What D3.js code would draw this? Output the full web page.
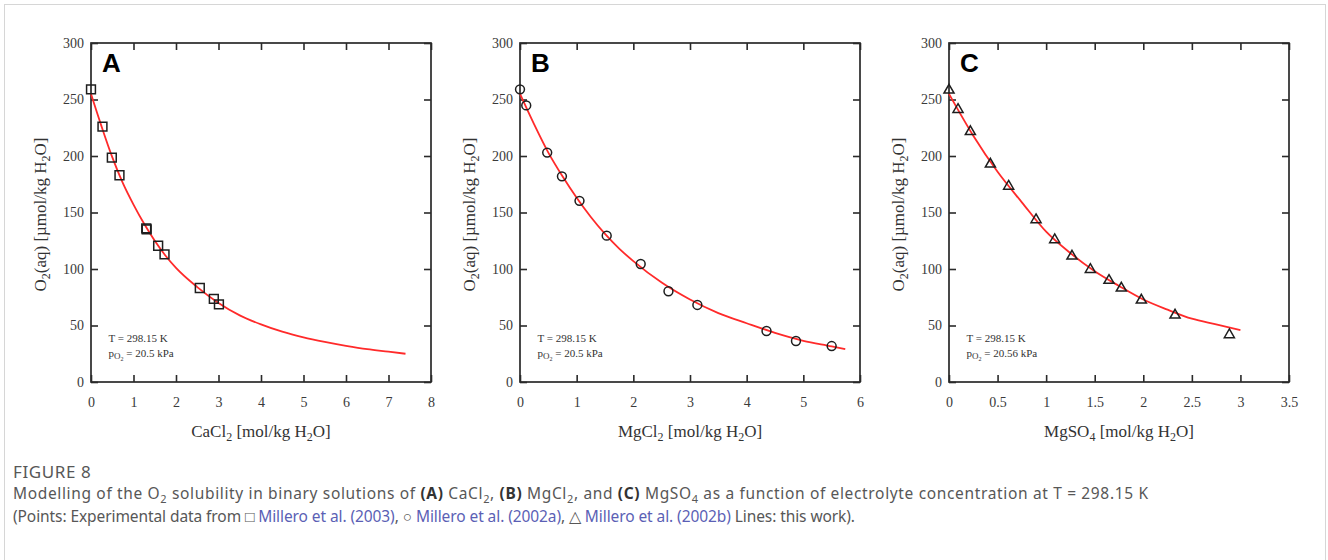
<!DOCTYPE html>
<html>
<head>
<meta charset="utf-8">
<script src="https://cdn.jsdelivr.net/npm/d3@7"></script>
<style>
  html, body { margin: 0; padding: 0; background: #fff; }
  svg { display: block; }
</style>
</head>
<body>
<svg id="fig" width="1328" height="560"></svg>
<script>
// ---- Measured O2 solubility (µmol/kg H2O) vs. electrolyte molality ----
const cacl2X = [0, 0.27, 0.49, 0.67, 1.30, 1.31, 1.58, 1.73, 2.56, 2.89, 3.01];
const cacl2Y = [259, 226, 198.5, 183, 136, 135, 120.6, 113, 83.2, 73.5, 68.7];

const mgcl2X = [0, 0.11, 0.48, 0.74, 1.05, 1.53, 2.13, 2.62, 3.13, 4.35, 4.87, 5.50];
const mgcl2Y = [259, 244.8, 203, 182, 160.3, 129.5, 104.4, 80.3, 68.2, 45.1, 36.3, 31.8];

const mgso4X = [0, 0.093, 0.22, 0.426, 0.614, 0.896, 1.088, 1.266, 1.455, 1.647, 1.774, 1.98, 2.327, 2.886];
const mgso4Y = [258.7, 241.6, 222, 193.2, 173.7, 144, 126.3, 111.8, 100, 90.3, 83.5, 72.9, 59.6, 42.2];

// ---- Model curves ("this work") ----
const cacl2CurveX = [0, 0.25, 0.5, 0.75, 1.0, 1.25, 1.5, 1.75, 2.0, 2.5, 3.0, 3.5, 4.0, 4.5, 5.0, 5.5, 6.0, 6.5, 7.0, 7.4];
const cacl2CurveY = [255, 226, 199, 176, 157, 140, 125, 112, 101, 84, 70, 59, 51, 44.5, 39.5, 35.5, 32, 29, 26.8, 25];

const mgcl2CurveX = [0, 0.25, 0.5, 0.75, 1.0, 1.25, 1.5, 1.75, 2.0, 2.5, 3.0, 3.5, 4.0, 4.5, 5.0, 5.5, 5.74];
const mgcl2CurveY = [255, 228, 203, 182, 163, 146, 131, 118, 107, 88, 73, 61, 52, 43.5, 36.5, 31.5, 29];

const mgso4CurveX = [0, 0.25, 0.5, 0.75, 1.0, 1.25, 1.5, 1.75, 2.0, 2.25, 2.5, 2.75, 3.0];
const mgso4CurveY = [255, 218, 186, 159, 133, 114, 98, 85, 73, 64, 56, 51, 46];

// ---- Axis ticks ----
const yTicks = [0, 50, 100, 150, 200, 250, 300];
const xTicksA = [0, 1, 2, 3, 4, 5, 6, 7, 8];
const xTicksB = [0, 1, 2, 3, 4, 5, 6];
const xTicksC = [0, 0.5, 1, 1.5, 2, 2.5, 3, 3.5];
const xTickLabelsC = ["0", "0.5", "1", "1.5", "2", "2.5", "3", "3.5"];

const panelLetters = ["A", "B", "C"];
const salts = [["CaCl", "2"], ["MgCl", "2"], ["MgSO", "4"]];
const pressures = ["20.5", "20.5", "20.56"];

const svg = d3.select("#fig");

// light frame around the figure block
svg.append("rect")
  .attr("x", 4.5).attr("y", 4.5).attr("width", 1321).attr("height", 600)
  .attr("fill", "none").attr("stroke", "#d6d6d6").attr("stroke-width", 1);

const plotTop = 43, plotBottom = 382, plotW = 340;
const lefts = [91, 520, 949];
const serif = "'Liberation Serif', 'Times New Roman', serif";
const ink = "#2a2a2a";

const panels = [
  { xs: cacl2X, ys: cacl2Y, cx: cacl2CurveX, cy: cacl2CurveY, ticks: xTicksA, max: 8, marker: d3.symbolSquare, size: 78 },
  { xs: mgcl2X, ys: mgcl2Y, cx: mgcl2CurveX, cy: mgcl2CurveY, ticks: xTicksB, max: 6, marker: d3.symbolCircle, size: 62 },
  { xs: mgso4X, ys: mgso4Y, cx: mgso4CurveX, cy: mgso4CurveY, ticks: xTicksC, max: 3.5, marker: d3.symbolTriangle, size: 44, labels: xTickLabelsC }
];

panels.forEach((p, i) => {
  const left = lefts[i];
  const x = d3.scaleLinear().domain([0, p.max]).range([left, left + plotW]);
  const y = d3.scaleLinear().domain([0, 300]).range([plotBottom, plotTop]);
  const g = svg.append("g");

  const fmt = p.labels ? ((d, k) => p.labels[k]) : (d => String(d));

  // bottom axis with labels, ticks pointing inward
  const bx = g.append("g").attr("transform", `translate(0,${plotBottom})`)
    .call(d3.axisBottom(x).tickValues(p.ticks).tickFormat(fmt).tickSize(-7).tickPadding(15));
  // left axis with labels
  const ly = g.append("g").attr("transform", `translate(${left},0)`)
    .call(d3.axisLeft(y).tickValues(yTicks).tickSize(-7).tickPadding(7));
  // top and right: inward ticks only
  const tx = g.append("g").attr("transform", `translate(0,${plotTop})`)
    .call(d3.axisTop(x).tickValues(p.ticks).tickFormat("").tickSize(-7));
  const ry = g.append("g").attr("transform", `translate(${left + plotW},0)`)
    .call(d3.axisRight(y).tickValues(yTicks).tickFormat("").tickSize(-7));

  [bx, ly, tx, ry].forEach(a => {
    a.select(".domain").remove();
    a.selectAll(".tick line").attr("stroke", ink).attr("stroke-width", 1.6);
    a.selectAll(".tick text").attr("fill", "#3a3a3a").style("font-family", serif).style("font-size", "14px");
  });

  // plot frame
  g.append("rect")
    .attr("x", left).attr("y", plotTop).attr("width", plotW).attr("height", plotBottom - plotTop)
    .attr("fill", "none").attr("stroke", ink).attr("stroke-width", 1.7);

  // model line
  const pts = p.cx.map((v, k) => [v, p.cy[k]]);
  g.append("path")
    .datum(pts)
    .attr("d", d3.line().x(d => x(d[0])).y(d => y(d[1])).curve(d3.curveMonotoneX))
    .attr("fill", "none").attr("stroke", "#ff2a2a").attr("stroke-width", 1.8);

  // experimental points
  const sym = d3.symbol().type(p.marker).size(p.size);
  g.selectAll("path.pt")
    .data(p.xs.map((v, k) => [v, p.ys[k]]))
    .join("path")
    .attr("class", "pt")
    .attr("transform", d => `translate(${x(d[0])},${y(d[1]) + (p.marker === d3.symbolTriangle ? 0.5 : 0)})`)
    .attr("d", sym)
    .attr("fill", "none").attr("stroke", "#1e1e1e").attr("stroke-width", 1.5);

  // panel letter
  g.append("text")
    .attr("x", left + 11).attr("y", 72)
    .style("font-family", "'Liberation Sans', Arial, sans-serif")
    .style("font-weight", "bold").style("font-size", "26px")
    .attr("fill", "#000")
    .text(panelLetters[i]);

  // conditions
  const note = g.append("g").style("font-family", serif).style("font-size", "11px").attr("fill", "#333");
  note.append("text").attr("x", left + 17.5).attr("y", 342).text("T = 298.15 K");
  const n2 = note.append("text").attr("x", left + 17.5).attr("y", 357);
  n2.append("tspan").text("p");
  n2.append("tspan").attr("font-size", "9px").attr("dy", 1.5).text("O");
  n2.append("tspan").attr("font-size", "6px").attr("dy", 2).text("2");
  n2.append("tspan").attr("dy", -3.5).text(` = ${pressures[i]} kPa`);

  // x axis title
  const xt = g.append("text")
    .attr("x", left + plotW / 2).attr("y", 437).attr("text-anchor", "middle")
    .style("font-family", serif).style("font-size", "17px").attr("fill", "#333");
  xt.append("tspan").text(salts[i][0]);
  xt.append("tspan").attr("font-size", "12px").attr("dy", 4).text(salts[i][1]);
  xt.append("tspan").attr("dy", -4).text(" [mol/kg H");
  xt.append("tspan").attr("font-size", "12px").attr("dy", 4).text("2");
  xt.append("tspan").attr("dy", -4).text("O]");

  // y axis title
  const yt = g.append("text")
    .attr("transform", `translate(${left - 45},${(plotTop + plotBottom) / 2 + 2}) rotate(-90)`)
    .attr("text-anchor", "middle")
    .style("font-family", serif).style("font-size", "17px").attr("fill", "#333");
  yt.append("tspan").text("O");
  yt.append("tspan").attr("font-size", "12px").attr("dy", 4).text("2");
  yt.append("tspan").attr("dy", -4).text("(aq) [µmol/kg H");
  yt.append("tspan").attr("font-size", "12px").attr("dy", 4).text("2");
  yt.append("tspan").attr("dy", -4).text("O]");
});

// ---- caption ----
const sans = "'Noto Sans', 'Open Sans', sans-serif";
const grey = "#575757", link = "#5b5fb5";
svg.append("text").attr("x", 13).attr("y", 478)
  .style("font-family", sans).style("font-size", "17px").attr("fill", grey)
  .style("letter-spacing", "0.6px")
  .text("FIGURE 8");

function runs(y, width, parts) {
  const t = svg.append("text").attr("x", 13).attr("y", y)
    .style("font-family", sans).style("font-size", "15.5px").attr("fill", grey)
    .attr("textLength", width).attr("lengthAdjust", "spacing");
  parts.forEach(([s, kind]) => {
    const sp = t.append("tspan").text(s);
    if (kind === "b") sp.attr("font-weight", "bold").attr("fill", "#333");
    if (kind === "l") sp.attr("fill", link);
    if (kind === "sub") sp.attr("font-size", "11px").attr("dy", 4);
    if (kind === "up") sp.attr("dy", -4);
  });
}
runs(499, 1135, [
  ["Modelling of the O"], ["2", "sub"], [" solubility in binary solutions of ", "up"], ["(A)", "b"], [" CaCl"], ["2", "sub"], [", ", "up"],
  ["(B)", "b"], [" MgCl"], ["2", "sub"], [", and ", "up"], ["(C)", "b"], [" MgSO"], ["4", "sub"],
  [" as a function of electrolyte concentration at T = 298.15 K", "up"]
]);
runs(522, 842, [
  ["(Points: Experimental data from \u25A1 "], ["Millero et al. (2003)", "l"], [", \u25CB "], ["Millero et al. (2002a)", "l"],
  [", \u25B3 "], ["Millero et al. (2002b)", "l"], [" Lines: this work)."]
]);
</script>
</body>
</html>
